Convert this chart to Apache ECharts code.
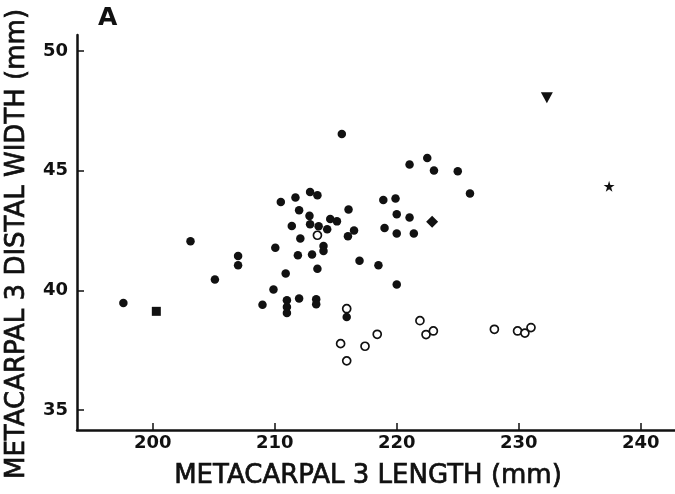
<!DOCTYPE html>
<html>
<head>
    <meta charset="utf-8" />
    <title>Metacarpal 3</title>
    <script src="https://cdn.jsdelivr.net/npm/echarts@6/dist/echarts.min.js"></script>
    <style>
        html, body { margin: 0; padding: 0; background: #fff; }
    </style>
</head>
<body>
    <div id="main" style="width: 675px;height:494px;"></div>
    <script>
        // [length, distal width]
        var filledPoints = [
            [197.6, 39.47], [203.1, 42.05], [205.1, 40.45], [207.0, 41.43], [207.0, 41.05],
            [209.0, 39.40], [209.9, 40.03], [210.05, 41.78], [210.9, 40.70], [211.0, 39.58],
            [211.0, 39.30], [211.0, 39.05], [212.0, 39.66], [211.9, 41.46], [213.06, 41.50],
            [213.5, 40.90], [213.4, 39.63], [213.4, 39.42], [214.0, 41.85], [214.0, 41.64],
            [211.4, 42.69], [212.9, 42.76], [213.6, 42.68], [214.3, 42.55], [212.1, 42.16],
            [210.5, 43.69], [211.7, 43.88], [212.9, 44.11], [213.5, 43.97], [212.0, 43.35],
            [212.85, 43.11], [214.55, 42.98], [215.1, 42.88], [215.5, 46.53], [216.05, 43.38],
            [216.5, 42.50], [216.0, 42.26], [218.9, 43.77], [219.9, 43.84], [220.0, 43.18],
            [221.05, 43.04], [219.0, 42.60], [220.0, 42.37], [221.4, 42.37], [221.05, 45.26],
            [222.5, 45.53], [223.05, 45.01], [225.0, 44.98], [226.0, 44.05], [216.95, 41.23],
            [218.5, 41.05], [220.0, 40.24], [215.9, 38.88]
        ];
        var openPoints = [
            [213.5, 42.30], [215.9, 39.23], [215.4, 37.77], [215.9, 37.05], [217.4, 37.66],
            [218.4, 38.16], [221.9, 38.73], [222.4, 38.15], [223.0, 38.30], [228.0, 38.37],
            [229.9, 38.30], [230.5, 38.21], [231.0, 38.44]
        ];
        var squarePoints = [[200.3, 39.12]];
        var trianglePoints = [[232.3, 48.05]];
        var starPoints = [[237.4, 44.35]];
        var diamondPoints = [[222.9, 42.86]];

        var xTicks = [200, 210, 220, 230, 240];
        var yTicks = [35, 40, 45, 50];

        var starPath = 'path://M50,0 L61,35 L98,35 L68,57 L79,91 L50,70 L21,91 L32,57 L2,35 L39,35 Z';
        var ink = '#111';

        var myChart = echarts.init(document.getElementById('main'));

        var axisCommon = {
            type: 'value',
            scale: true,
            splitLine: { show: false },
            axisLine: { show: true, onZero: false, lineStyle: { color: ink, width: 2.5 } },
            axisTick: { show: true, inside: true, length: 7, lineStyle: { color: ink, width: 1.5 } },
            axisLabel: {
                color: ink,
                fontFamily: 'DejaVu Sans',
                fontWeight: 'bold',
                fontSize: 18
            }
        };

        myChart.setOption({
            backgroundColor: '#fff',
            animation: false,
            grid: { left: 77, right: 0, top: 35, bottom: 64 },
            xAxis: echarts.util.merge({
                min: 193.8,
                max: 242.8,
                axisTick: { customValues: xTicks },
                axisLabel: { customValues: xTicks, margin: 4 }
            }, axisCommon),
            yAxis: echarts.util.merge({
                min: 34.16,
                max: 50.67,
                axisTick: { customValues: yTicks },
                axisLabel: { customValues: yTicks, margin: 9 }
            }, axisCommon),
            graphic: [
                {
                    type: 'text', left: 98, top: 6,
                    style: { text: 'A', fill: ink, font: 'bold 25px "DejaVu Sans"' }
                },
                {
                    type: 'text', x: 368, y: 476,
                    style: {
                        text: 'METACARPAL 3 LENGTH (mm)', fill: ink, stroke: ink, lineWidth: 0.7,
                        font: '26px "DejaVu Sans"', align: 'center', verticalAlign: 'middle'
                    }
                },
                {
                    type: 'text', x: 17, y: 244, rotation: Math.PI / 2,
                    style: {
                        text: 'METACARPAL 3 DISTAL WIDTH (mm)', fill: ink, stroke: ink, lineWidth: 0.7,
                        font: '26px "DejaVu Sans"', align: 'center', verticalAlign: 'middle'
                    }
                }
            ],
            series: [
                {
                    type: 'scatter', data: filledPoints, symbol: 'circle', symbolSize: 8.5,
                    itemStyle: { color: ink, opacity: 1 }
                },
                {
                    type: 'scatter', data: openPoints, symbol: 'circle', symbolSize: 8,
                    itemStyle: { color: '#fff', borderColor: ink, borderWidth: 1.7, opacity: 1 }
                },
                {
                    type: 'scatter', data: squarePoints, symbol: 'rect', symbolSize: 9,
                    itemStyle: { color: ink, opacity: 1 }
                },
                {
                    type: 'scatter', data: trianglePoints, symbol: 'triangle', symbolRotate: 180,
                    symbolSize: [12, 11], itemStyle: { color: ink, opacity: 1 }
                },
                {
                    type: 'scatter', data: starPoints, symbol: starPath, symbolSize: 11,
                    itemStyle: { color: ink, opacity: 1 }
                },
                {
                    type: 'scatter', data: diamondPoints, symbol: 'diamond', symbolSize: 12,
                    itemStyle: { color: ink, opacity: 1 }
                }
            ]
        });
    </script>
</body>
</html>
